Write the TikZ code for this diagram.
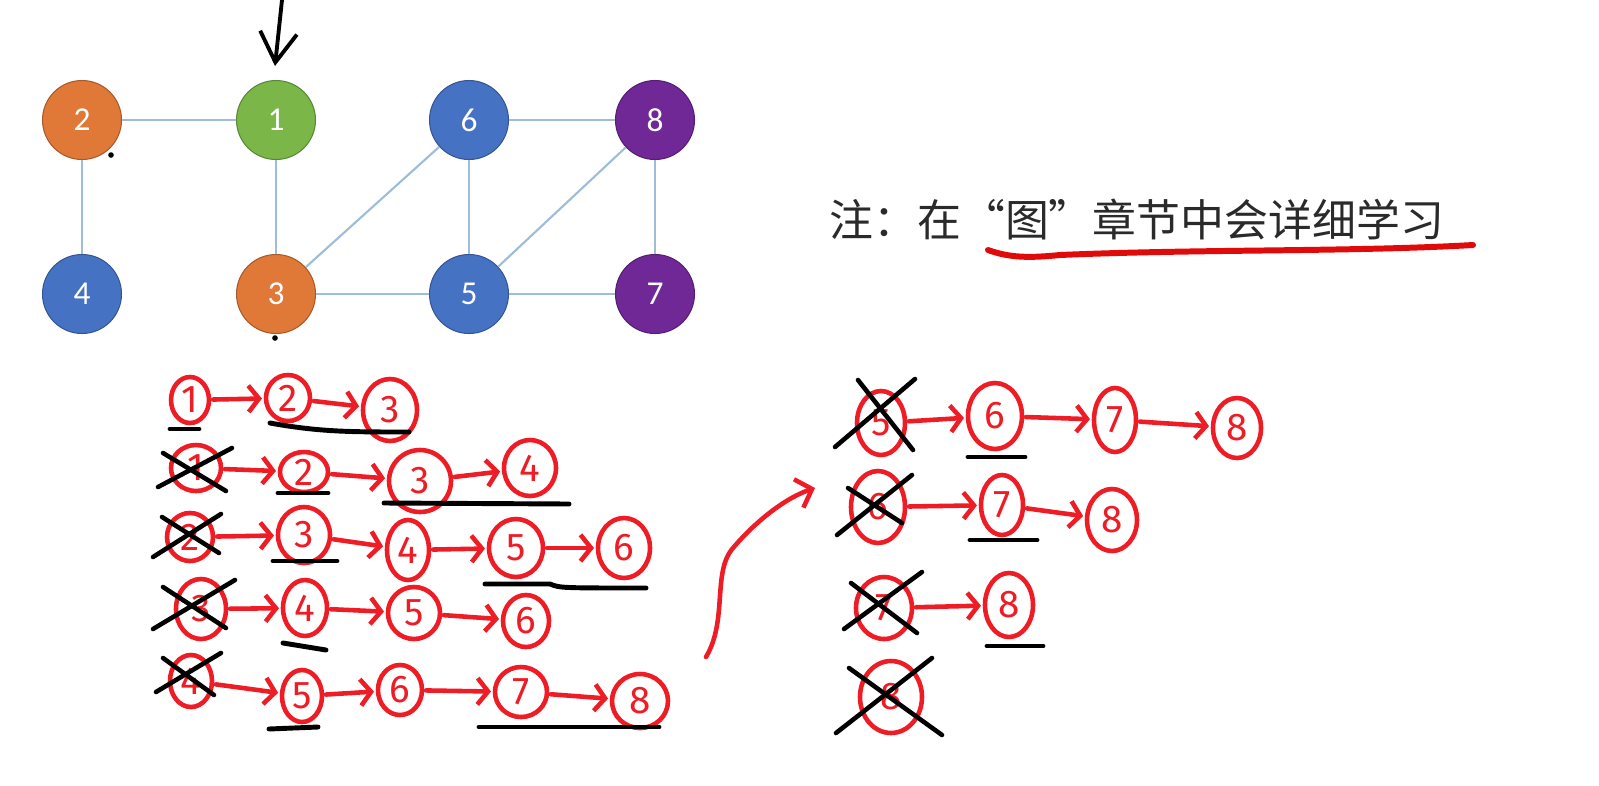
\documentclass[tikz,border=0pt]{standalone}
\usepackage{fontspec}
\setsansfont{Carlito}
\newfontfamily\cjkfont{Noto Sans CJK SC}
\newfontfamily\handfont{Fira Sans}
\usetikzlibrary{arrows.meta,shapes.geometric}
\definecolor{gorange}{HTML}{E07838}
\definecolor{ggreen}{HTML}{7AB648}
\definecolor{gblue}{HTML}{4672C4}
\definecolor{gpurple}{HTML}{702896}
\definecolor{edgeblue}{HTML}{9DBDD8}
\definecolor{hred}{HTML}{EE1C25}
\definecolor{ulred}{HTML}{E00A0A}
\definecolor{textgray}{HTML}{2A2A2A}
\tikzset{
  gnode/.style={circle, minimum size=1.58cm, inner sep=0pt, draw=#1!75!black, line width=0.6pt, fill=#1, text=white, font=\sffamily\fontsize{19}{20}\selectfont},
  gedge/.style={draw=edgeblue, line width=1.2pt},
  hw/.style 2 args={ellipse, draw=hred, line width=2.6pt, minimum width=#1*0.02cm, minimum height=#2*0.02cm, inner sep=0pt, text=hred, font=\handfont\fontsize{22}{22}\selectfont},
  harr/.style={draw=hred, line width=2.6pt, line cap=round, -{Straight Barb[length=6pt,width=15pt]}, shorten >=1pt, shorten <=1pt},
  xline/.style={draw=black, line width=2.6pt, line cap=round},
  uline/.style={draw=black, line width=2.8pt, line cap=round},
}
\begin{document}
\begin{tikzpicture}[x=0.02cm,y=-0.02cm]
\useasboundingbox[fill=white] (0,0) rectangle (1599,785);

% ---------- graph ----------
\node[gnode=gorange] (g2) at (82,120) {2};
\node[gnode=ggreen]  (g1) at (276,120) {1};
\node[gnode=gblue]   (g6) at (469,120) {6};
\node[gnode=gpurple] (g8) at (655,120) {8};
\node[gnode=gblue]   (g4) at (82,294) {4};
\node[gnode=gorange] (g3) at (276,294) {3};
\node[gnode=gblue]   (g5) at (469,294) {5};
\node[gnode=gpurple] (g7) at (655,294) {7};
\draw[gedge] (g2) -- (g1);
\draw[gedge] (g2) -- (g4);
\draw[gedge] (g1) -- (g3);
\draw[gedge] (g3) -- (g6);
\draw[gedge] (g3) -- (g5);
\draw[gedge] (g6) -- (g5);
\draw[gedge] (g6) -- (g8);
\draw[gedge] (g8) -- (g5);
\draw[gedge] (g8) -- (g7);
\draw[gedge] (g5) -- (g7);

% start arrow
\coordinate (sa) at (282,0);
\coordinate (st) at (275,66);
\draw[line width=2.2pt, line cap=round, -{Straight Barb[length=17pt,width=21pt]}] (sa) -- (st);
\fill (111,155) circle (1.6pt);
\fill (275,338) circle (1.6pt);

% ---------- note ----------
\node[anchor=west, inner sep=0pt, text=textgray, font=\cjkfont\fontsize{25}{25}\selectfont] (note) at (829,219) {注：在“图”章节中会详细学习};
\draw[draw=ulred, line width=3.4pt, line cap=round] (988,250) .. controls (1010,258) and (1030,258) .. (1060,255) .. controls (1200,249) and (1350,252) .. (1473,245);

% ---------- left queue ----------
% row 1
\node[hw={38}{46}] (a1) at (190,400) {1};
\node[hw={44}{46}] (a2) at (288,398) {2};
\node[hw={54}{62}] (a3) at (390,410) {3};
\draw[harr] (a1) -- (a2);
\draw[harr] (a2) -- (a3);
\draw[uline] (170,429) -- (199,429);
\draw[uline] (270,423) .. controls (320,432) and (350,432) .. (409,432);
% row 2
\node[hw={50}{46}] (b1) at (196,468) {1};
\node[hw={48}{40}] (b2) at (304,472) {2};
\node[hw={62}{62}] (b3) at (420,481) {3};
\node[hw={52}{56}] (b4) at (530,468) {4};
\draw[harr] (b1) -- (b2);
\draw[harr] (b2) -- (b3);
\draw[harr] (b3) -- (b4);
\draw[xline] (163,453) -- (226,491);
\draw[xline] (158,487) -- (232,448);
\draw[uline] (278,493) -- (328,493);
\draw[uline] (384,503) -- (569,504);
% row 3
\node[hw={46}{48}] (c2) at (190,537) {2};
\node[hw={52}{56}] (c3) at (304,535) {3};
\node[hw={42}{60}] (c4) at (408,550) {4};
\node[hw={54}{58}] (c5) at (516,548) {5};
\node[hw={52}{60}] (c6) at (624,548) {6};
\draw[harr] (c2) -- (c3);
\draw[harr] (c3) -- (c4);
\draw[harr] (c4) -- (c5);
\draw[harr] (c5) -- (c6);
\draw[xline] (162,517) -- (219,553);
\draw[xline] (153,557) -- (221,514);
\draw[uline] (273,561) -- (337,561);
\draw[uline] (485,584) -- (550,584) .. controls (560,588) .. (646,588);
% row 4
\node[hw={50}{60}] (d3) at (201,609) {3};
\node[hw={44}{56}] (d4) at (305,608) {4};
\node[hw={52}{52}] (d5) at (414,613) {5};
\node[hw={46}{52}] (d6) at (526,621) {6};
\draw[harr] (d3) -- (d4);
\draw[harr] (d4) -- (d5);
\draw[harr] (d5) -- (d6);
\draw[xline] (163,587) -- (226,628);
\draw[xline] (153,629) -- (235,580);
\draw[uline] (283,643) -- (326,650);
% row 5
\node[hw={42}{52}] (e4) at (191,681) {4};
\node[hw={40}{52}] (e5) at (302,696) {5};
\node[hw={44}{50}] (e6) at (400,690) {6};
\node[hw={52}{50}] (e7) at (521,692) {7};
\node[hw={56}{54}] (e8) at (640,701) {8};
\draw[harr] (e4) -- (e5);
\draw[harr] (e5) -- (e6);
\draw[harr] (e6) -- (e7);
\draw[harr] (e7) -- (e8);
\draw[xline] (163,658) -- (214,695);
\draw[xline] (156,692) -- (221,653);
\draw[uline] (269,729) -- (318,727);
\draw[uline] (479,727) -- (659,727);

% ---------- connecting curve ----------
\coordinate (cs) at (706,657);
\coordinate (ce) at (815,488);
\draw[draw=hred, line width=2.6pt, line cap=round, -{Straight Barb[length=8pt,width=17pt]}] (cs) .. controls (728,620) and (712,572) .. (733,548) .. controls (755,522) and (785,498) .. (ce);

% ---------- right queue ----------
% row 1
\node[hw={48}{64}] (f5) at (881,423) {5};
\node[hw={54}{66}] (f6) at (995,416) {6};
\node[hw={42}{64}] (f7) at (1115,420) {7};
\node[hw={48}{60}] (f8) at (1237,428) {8};
\draw[harr] (f5) -- (f6);
\draw[harr] (f6) -- (f7);
\draw[harr] (f7) -- (f8);
\draw[xline] (858,380) -- (913,450);
\draw[xline] (835,447) -- (915,379);
\draw[uline] (968,457) -- (1025,457);
% row 2
\node[hw={54}{72}] (g6x) at (878,507) {6};
\node[hw={42}{60}] (g7x) at (1002,505) {7};
\node[hw={50}{62}] (g8x) at (1112,520) {8};
\draw[harr] (g6x) -- (g7x);
\draw[harr] (g7x) -- (g8x);
\draw[xline] (848,488) -- (902,523);
\draw[xline] (837,535) -- (912,475);
\draw[uline] (970,540) -- (1037,540);
% row 3
\node[hw={56}{62}] (h7) at (884,608) {7};
\node[hw={48}{64}] (h8) at (1009,605) {8};
\draw[harr] (h7) -- (h8);
\draw[xline] (851,583) -- (917,633);
\draw[xline] (844,629) -- (922,572);
\draw[uline] (987,646) -- (1043,646);
% row 4
\node[hw={62}{72}] (i8) at (891,697) {8};
\draw[xline] (849,668) -- (942,735);
\draw[xline] (836,733) -- (932,658);
\end{tikzpicture}
\end{document}
